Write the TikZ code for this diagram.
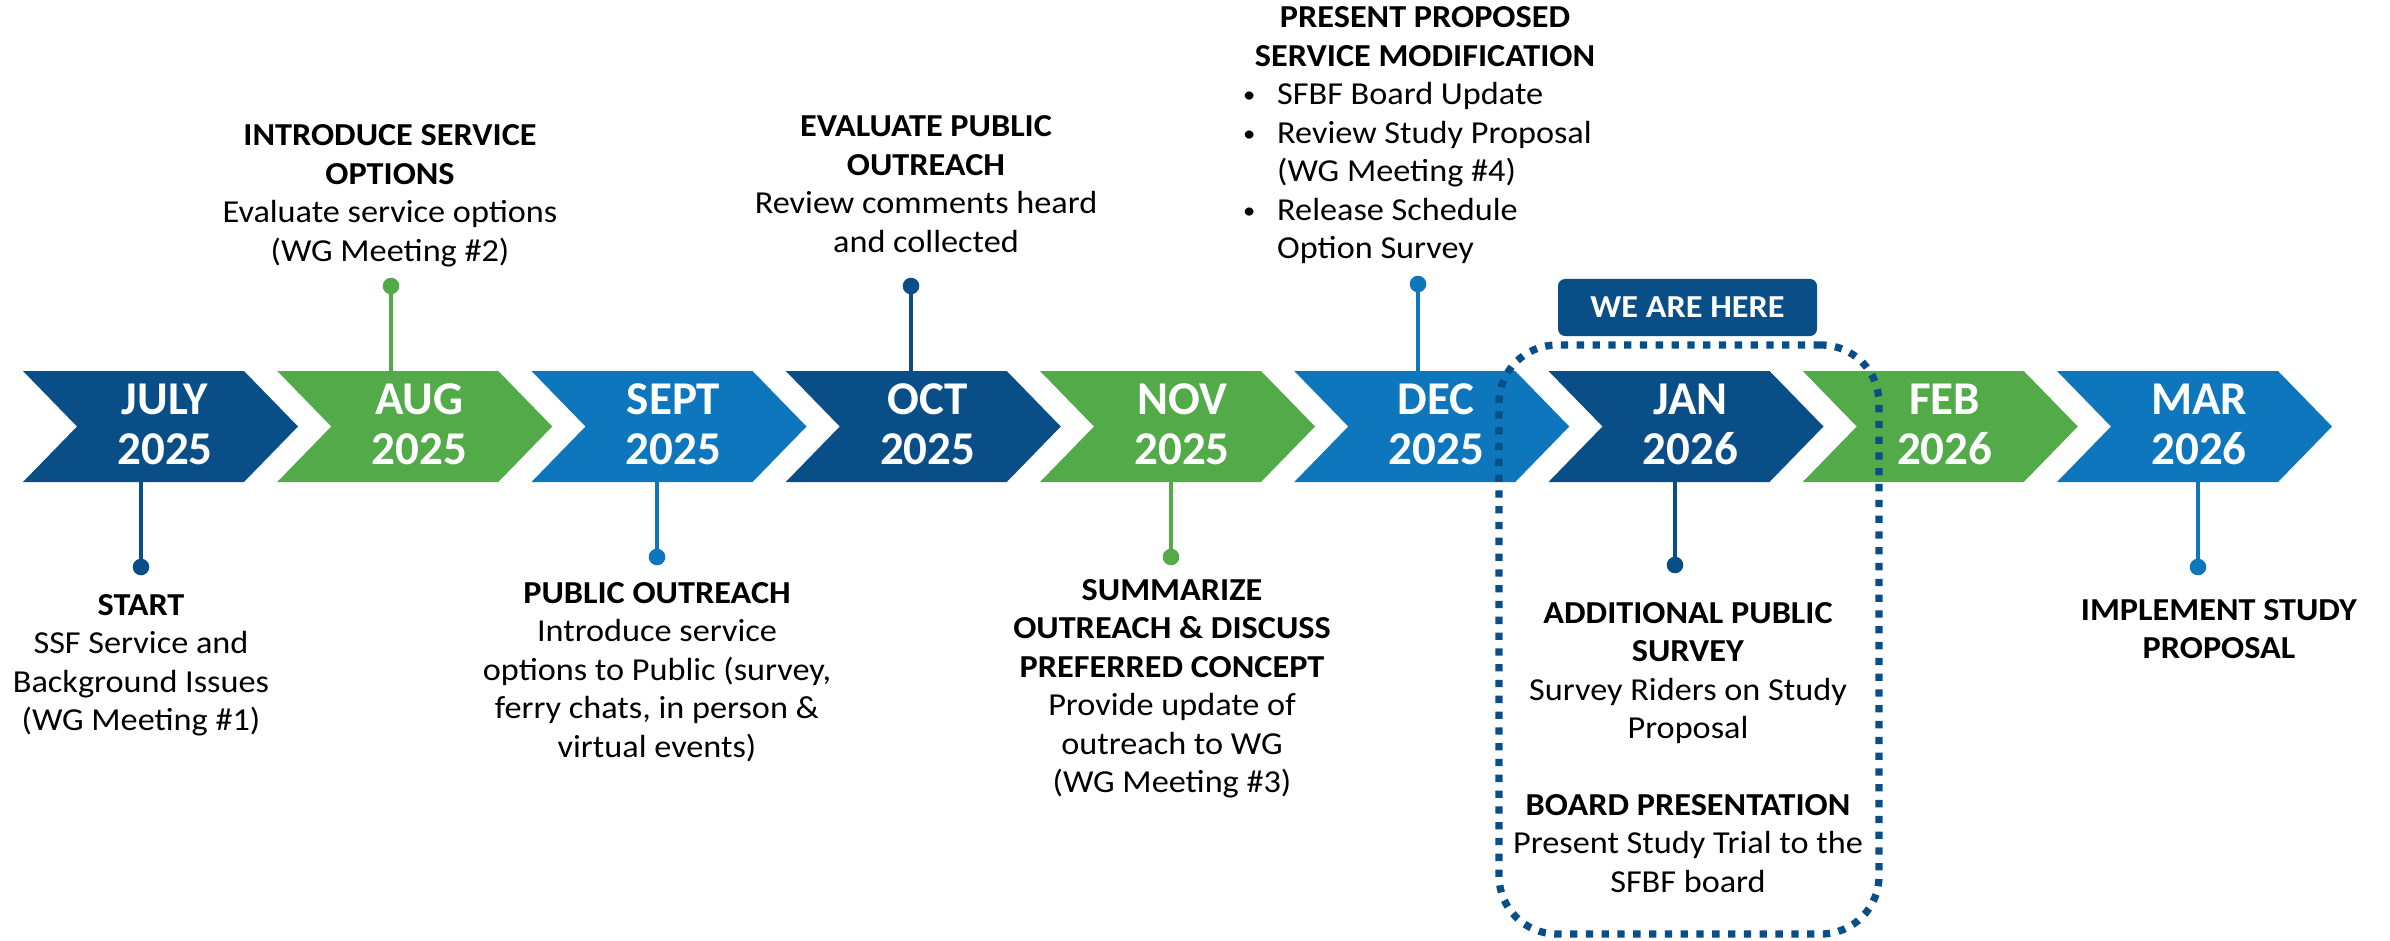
\documentclass[tikz,border=0pt]{standalone}
\usepackage{fontspec}
\newfontfamily\bodyfont{Carlito}[FakeStretch=1.07]
\newfontfamily\monthfont{Carlito}
\definecolor{navy}{HTML}{0A4E87}
\definecolor{leaf}{HTML}{53AA48}
\definecolor{sky}{HTML}{0E76BD}
\newcommand{\blk}[1]{\begin{tabular}[t]{@{}c@{}}#1\end{tabular}}
\newcommand{\bul}{\makebox[37pt][l]{\hspace*{3pt}\raisebox{2pt}{\scalebox{0.72}{•}}}}
\begin{document}
\begin{tikzpicture}[x=1pt,y=-1pt,
  txt/.style={font=\bodyfont\fontsize{32}{38.5}\selectfont, inner sep=0pt, anchor=base, text=black},
  monthtxt/.style={font=\monthfont\bfseries\fontsize{47}{50}\selectfont, text=white, inner sep=0pt, anchor=base},
  conn/.style={line width=3.5pt},
  dot/.style={circle, inner sep=0pt, minimum size=16.6pt}]
\useasboundingbox (0,0) rectangle (2390,941);
\fill[white] (0,0) rectangle (2390,941);

% chevrons
\foreach \n/\xx/\c/\m/\yr in {jul/23/navy/JULY/2025, aug/277.25/leaf/AUG/2025, sep/531.5/sky/SEPT/2025, oct/785.75/navy/OCT/2025, nov/1040/leaf/NOV/2025, dec/1294.25/sky/DEC/2025, jan/1548.5/navy/JAN/2026, feb/1802.75/leaf/FEB/2026, mar/2057/sky/MAR/2026}{
  \fill[\c] (\xx,371) -- ++(221,0) -- ++(54,55.5) -- ++(-54,55.5) -- ++(-221,0) -- ++(54,-55.5) -- cycle;
  \node[monthtxt] (\n) at (\xx+142,414) {\blk{\m\\\yr}};
}

% "we are here" frame
\node[draw=navy, line width=7.3pt, dash pattern=on 7.3pt off 8.5pt, rounded corners=58pt,
      minimum width=380pt, minimum height=589pt, inner sep=0pt] (frame) at (1689,639.5) {};
\node[fill=navy, rounded corners=7pt, minimum width=259pt, minimum height=57pt, inner sep=0pt,
      text=white, font=\bodyfont\bfseries\fontsize{32}{38}\selectfont] (here) at (1687.5,307.5) {WE ARE HERE};

% connection points on chevrons
\coordinate (aug-top) at (391,371);
\coordinate (oct-top) at (911,371);
\coordinate (dec-top) at (1418,371);
\coordinate (jul-bot) at (141,482);
\coordinate (sep-bot) at (657,482);
\coordinate (nov-bot) at (1171,482);
\coordinate (jan-bot) at (1675,482);
\coordinate (mar-bot) at (2198,482);

% dots
\node[dot, fill=leaf] (aug-dot) at (391,286) {};
\node[dot, fill=navy] (oct-dot) at (911,286) {};
\node[dot, fill=sky]  (dec-dot) at (1418,284) {};
\node[dot, fill=navy] (jul-dot) at (141,567) {};
\node[dot, fill=sky]  (sep-dot) at (657,557) {};
\node[dot, fill=leaf] (nov-dot) at (1171,557) {};
\node[dot, fill=navy] (jan-dot) at (1675,565) {};
\node[dot, fill=sky]  (mar-dot) at (2198,567) {};

% connectors
\draw[conn, leaf] (aug-dot) -- (aug-top);
\draw[conn, navy] (oct-dot) -- (oct-top);
\draw[conn, sky]  (dec-dot) -- (dec-top);
\draw[conn, navy] (jul-bot) -- (jul-dot);
\draw[conn, sky]  (sep-bot) -- (sep-dot);
\draw[conn, leaf] (nov-bot) -- (nov-dot);
\draw[conn, navy] (jan-bot) -- (jan-dot);
\draw[conn, sky]  (mar-bot) -- (mar-dot);

% top texts
\node[txt] (t-aug) at (390,146) {\blk{\textbf{INTRODUCE SERVICE}\\\textbf{OPTIONS}\\Evaluate service options\\(WG Meeting \#2)}};
\node[txt] (t-oct) at (926,137) {\blk{\textbf{EVALUATE PUBLIC}\\\textbf{OUTREACH}\\Review comments heard\\and collected}};
\node[txt] (t-dec) at (1425,28) {\blk{\textbf{PRESENT PROPOSED}\\\textbf{SERVICE MODIFICATION}}};
\node[txt, anchor=base west] (t-decb) at (1240,105) {\begin{tabular}[t]{@{}l@{}}\bul SFBF Board Update\\\bul Review Study Proposal\\\hspace*{37pt}(WG Meeting \#4)\\\bul Release Schedule\\\hspace*{37pt}Option Survey\end{tabular}};

% bottom texts
\node[txt] (t-jul) at (141,615) {\blk{\textbf{START}\\SSF Service and\\Background Issues\\(WG Meeting \#1)}};
\node[txt] (t-sep) at (657,603) {\blk{\textbf{PUBLIC OUTREACH}\\Introduce service\\options to Public (survey,\\ferry chats, in person \&\\virtual events)}};
\node[txt] (t-nov) at (1172,600) {\blk{\textbf{SUMMARIZE}\\\textbf{OUTREACH \& DISCUSS}\\\textbf{PREFERRED CONCEPT}\\Provide update of\\outreach to WG\\(WG Meeting \#3)}};
\node[txt] (t-jan) at (1688,623) {\blk{\textbf{ADDITIONAL PUBLIC}\\\textbf{SURVEY}\\Survey Riders on Study\\Proposal}};
\node[txt] (t-jan2) at (1688,815) {\blk{\textbf{BOARD PRESENTATION}\\Present Study Trial to the\\SFBF board}};
\node[txt] (t-mar) at (2219,620) {\blk{\textbf{IMPLEMENT STUDY}\\\textbf{PROPOSAL}}};
\end{tikzpicture}
\end{document}
